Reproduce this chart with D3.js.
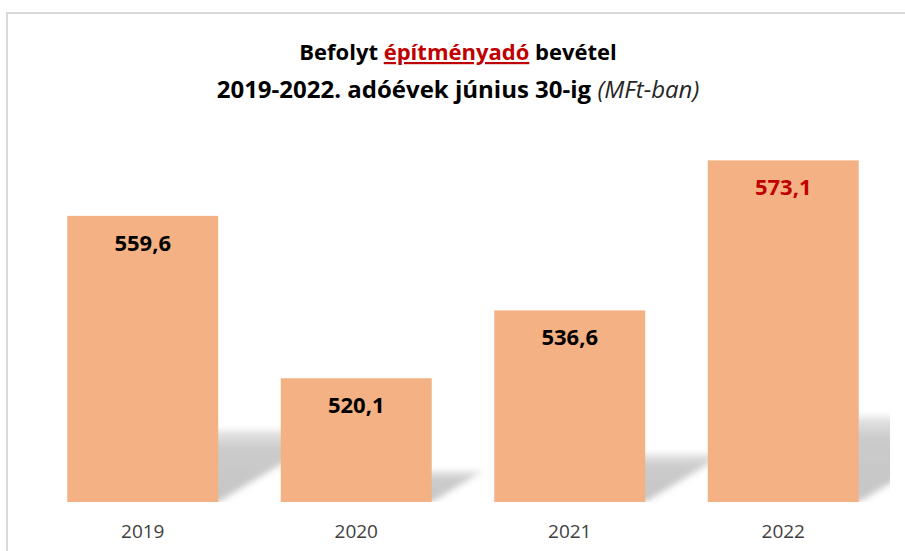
<!DOCTYPE html>
<html>
<head>
<meta charset="utf-8">
<script src="https://cdn.jsdelivr.net/npm/d3@7"></script>
<style>
  body { margin: 0; background: #fff; }
  svg { display: block; font-family: "Open Sans", "Noto Sans", sans-serif; }
</style>
</head>
<body>
<svg id="chart"></svg>
<script>
// data
const years = ["2019", "2020", "2021", "2022"];
const values = [559.6, 520.1, 536.6, 573.1];
const yDomain = [490, 580];

const width = 905, height = 551;
const base = 502;

const svg = d3.select("#chart").attr("width", width).attr("height", height);

// chart frame (only top/left visible)
svg.append("rect")
  .attr("x", 7).attr("y", 13)
  .attr("width", 940).attr("height", 600)
  .attr("fill", "#fff")
  .attr("stroke", "#d9d9d9")
  .attr("stroke-width", 2);

const hu = d3.formatLocale({ decimal: ",", thousands: " ", grouping: [3], currency: ["", " Ft"] });
const fmt = hu.format(".1f");

const x = d3.scaleBand().domain(years).range([36, 890]).paddingInner(0.293).paddingOuter(0.1465);
const y = d3.scaleLinear().domain(yDomain).range([base, 132]);

const defs = svg.append("defs");
defs.append("clipPath").attr("id", "plot")
  .append("rect").attr("x", 36).attr("y", 120).attr("width", 854).attr("height", base - 120);
defs.append("filter").attr("id", "blur")
  .attr("x", "-20%").attr("y", "-30%").attr("width", "140%").attr("height", "160%")
  .append("feGaussianBlur").attr("stdDeviation", 3);
const grad = defs.append("linearGradient").attr("id", "shade")
  .attr("x1", 0).attr("y1", 1).attr("x2", 0).attr("y2", 0);
grad.append("stop").attr("offset", "0%").attr("stop-color", "#c6c6c6");
grad.append("stop").attr("offset", "75%").attr("stop-color", "#cbcbcb");
grad.append("stop").attr("offset", "100%").attr("stop-color", "#e6e6e6");

// perspective shadows behind the bars
svg.append("g").attr("clip-path", "url(#plot)")
  .selectAll("path")
  .data(values)
  .join("path")
  .attr("d", (d, i) => {
    const x0 = x(years[i]), x1 = x0 + x.bandwidth();
    const dy = (base - y(d)) * 0.25, dx = dy * 1.67;
    return `M${x0},${base}L${x1},${base}L${x1 + dx},${base - dy}L${x0 + dx},${base - dy}Z`;
  })
  .attr("fill", "url(#shade)")
  .attr("filter", "url(#blur)");

// bars
svg.append("g")
  .selectAll("rect")
  .data(values)
  .join("rect")
  .attr("x", (d, i) => x(years[i]))
  .attr("y", d => y(d))
  .attr("width", x.bandwidth())
  .attr("height", d => base - y(d))
  .attr("fill", "#f4b183");

// value labels inside bar tops
svg.append("g")
  .selectAll("text")
  .data(values)
  .join("text")
  .attr("x", (d, i) => x(years[i]) + x.bandwidth() / 2)
  .attr("y", d => y(d) + 35)
  .attr("text-anchor", "middle")
  .attr("font-size", 22)
  .attr("font-weight", "bold")
  .attr("fill", (d, i) => i === values.length - 1 ? "#c00000" : "#000")
  .text(d => fmt(d));

// category axis labels
svg.append("g")
  .selectAll("text")
  .data(years)
  .join("text")
  .attr("x", d => x(d) + x.bandwidth() / 2)
  .attr("y", 538)
  .attr("text-anchor", "middle")
  .attr("font-size", 19)
  .attr("fill", "#404040")
  .text(d => d);

// title
const t1 = svg.append("text")
  .attr("x", 458).attr("y", 60)
  .attr("text-anchor", "middle")
  .attr("font-size", 22)
  .attr("font-weight", "bold")
  .attr("fill", "#000");
t1.append("tspan").text("Befolyt ");
t1.append("tspan").attr("fill", "#c00000").attr("text-decoration", "underline").text("építményadó");
t1.append("tspan").text(" bevétel");

const t2 = svg.append("text")
  .attr("x", 458).attr("y", 98)
  .attr("text-anchor", "middle")
  .attr("font-size", 24)
  .attr("fill", "#000");
t2.append("tspan").attr("font-weight", "bold").text("2019-2022. adóévek június 30-ig ");
t2.append("tspan").attr("font-style", "italic").attr("fill", "#262626").text("(MFt-ban)");
</script>
</body>
</html>
